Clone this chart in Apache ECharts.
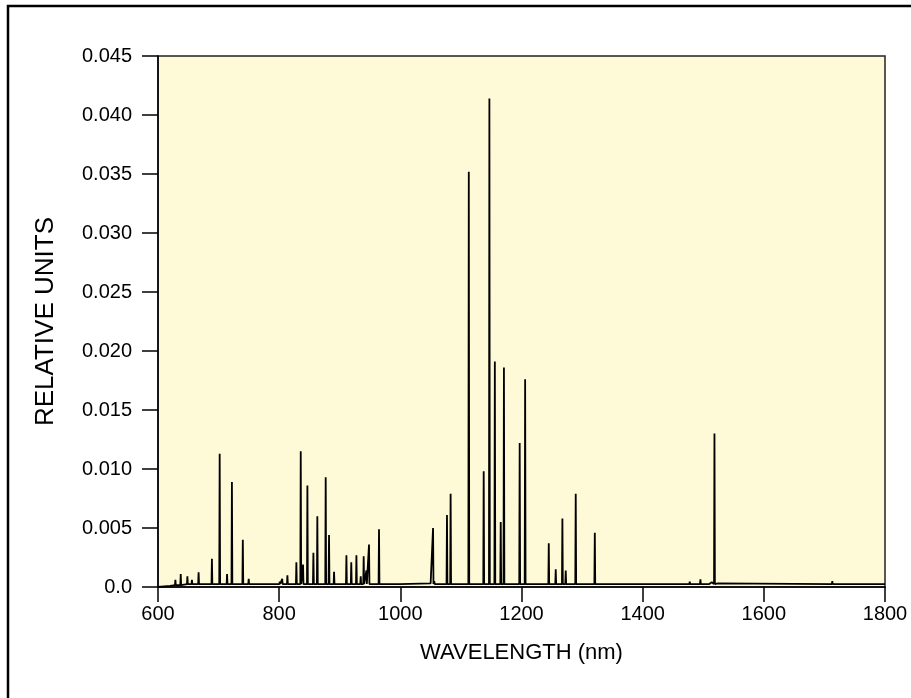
<!DOCTYPE html>
<html>
<head>
<meta charset="utf-8">
<script src="https://cdn.jsdelivr.net/npm/echarts@6/dist/echarts.min.js"></script>
<style>
html,body{margin:0;padding:0;background:#fff;}
#c{width:911px;height:698px;}
</style>
</head>
<body>
<div id="c"></div>
<script>
// Emission lines: wavelength (nm) and peak intensity (relative units)
const peakWavelengths = [628.7, 637.5, 648.5, 656, 667, 689, 701.8, 714, 722, 740, 749.7,
  801, 805, 813.6, 828.4, 835.6, 839.4, 846.6, 856.5, 863, 876.8, 882.3, 890.6,
  911, 919, 927.5, 934.6, 939.5, 944, 948.3, 964.8, 1000,
  1054, 1056, 1077, 1083, 1113, 1137.6, 1147, 1156, 1165.7, 1171, 1197, 1206,
  1245, 1256.5, 1267.5, 1273, 1289.5, 1321, 1477.7, 1495.3, 1518.5, 1713];
const peakValues = [0.0006, 0.0011, 0.0009, 0.0006, 0.00125, 0.0024, 0.0113, 0.0011, 0.0089, 0.0040, 0.0007,
  0.00045, 0.0007, 0.0010, 0.0021, 0.0115, 0.0019, 0.0086, 0.0029, 0.0060, 0.0093, 0.0044, 0.0013,
  0.0027, 0.0021, 0.0027, 0.0009, 0.0026, 0.0014, 0.0036, 0.0049, 0.0004,
  0.0050, 0.0005, 0.0061, 0.0079, 0.0352, 0.0098, 0.0414, 0.0191, 0.0055, 0.0186, 0.0122, 0.0176,
  0.0037, 0.0015, 0.0058, 0.0014, 0.0079, 0.0046, 0.00045, 0.00065, 0.0130, 0.0005];
// Continuum baseline points
const baseWavelengths = [600, 620, 640, 1000, 1050, 1100, 1510, 1514, 1524, 1800];
const baseValues = [0.0, 0.0001, 0.0002, 0.00025, 0.0003, 0.00025, 0.00025, 0.0004, 0.0003, 0.00025];
const lineFoot = 0.00025;   // level the lines sit on
const lineHalfWidth = 0.7;  // nm
const xTicks = [600, 800, 1000, 1200, 1400, 1600, 1800];
const yTicks = [0.0, 0.005, 0.010, 0.015, 0.020, 0.025, 0.030, 0.035, 0.040, 0.045];

const pts = [];
baseWavelengths.forEach((w, i) => pts.push([w, baseValues[i]]));
peakWavelengths.forEach((w, i) => {
  const foot = w < 640 ? 0.00015 : lineFoot;
  pts.push([w - lineHalfWidth, foot]);
  pts.push([w, peakValues[i]]);
  pts.push([w + lineHalfWidth, foot]);
});
pts.sort((a, b) => a[0] - b[0]);

const font = "'Liberation Sans', Arial, Helvetica, sans-serif";
const chart = echarts.init(document.getElementById('c'), null, {renderer: 'canvas'});
chart.setOption({
  animation: false,
  graphic: [{
    type: 'rect', silent: true, z: -10,
    shape: {x: 8, y: 6, width: 1000, height: 1000},
    style: {fill: 'none', stroke: '#000', lineWidth: 2.5}
  }],
  grid: {
    left: 158, right: 26, top: 56, bottom: 111,
    show: true, backgroundColor: '#FEF9D6', borderColor: '#222', borderWidth: 1.5
  },
  xAxis: {
    type: 'value', min: 600, max: 1800, interval: 200,
    name: 'WAVELENGTH (nm)', nameLocation: 'middle', nameGap: 55,
    nameTextStyle: {color: '#000', fontSize: 22, fontFamily: font},
    axisLine: {show: true, lineStyle: {color: '#000', width: 1.5}},
    axisTick: {show: true, inside: false, length: 15, lineStyle: {color: '#000', width: 1.5}},
    axisLabel: {color: '#000', fontSize: 20, fontFamily: font, margin: 17,
      formatter: v => xTicks.includes(v) ? String(v) : ''},
    splitLine: {show: false}
  },
  yAxis: {
    type: 'value', min: 0, max: 0.045, interval: 0.005,
    name: 'RELATIVE UNITS', nameLocation: 'middle', nameGap: 99, nameRotate: 90,
    nameTextStyle: {color: '#000', fontSize: 26, fontFamily: font},
    axisLine: {show: true, lineStyle: {color: '#000', width: 1.5}},
    axisTick: {show: true, inside: false, length: 16, lineStyle: {color: '#000', width: 1.5}},
    axisLabel: {color: '#000', fontSize: 20, fontFamily: font, margin: 26,
      formatter: v => {
        const t = yTicks.find(y => Math.abs(y - v) < 1e-9);
        if (t === undefined) return '';
        return t === 0 ? '0.0' : t.toFixed(3);
      }},
    splitLine: {show: false}
  },
  series: [{
    type: 'line', data: pts, showSymbol: false, symbol: 'none',
    lineStyle: {color: '#000', width: 1.8}, clip: true
  }]
});
</script>
</body>
</html>
